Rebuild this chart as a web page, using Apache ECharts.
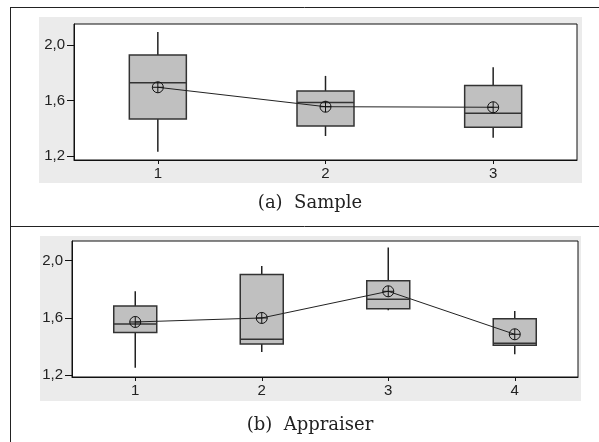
<!DOCTYPE html>
<html>
<head>
<meta charset="utf-8">
<script src="https://cdn.jsdelivr.net/npm/echarts@6/dist/echarts.min.js"></script>
<style>
html,body{margin:0;padding:0;background:#fff;}
#chart{width:599px;height:442px;}
</style>
</head>
<body>
<div id="chart"></div>
<script>
// ---- data ----
const sampleCategories = ['1', '2', '3'];
// [min, Q1, median, Q3, max]
const sampleBoxes = [
  [1.231, 1.467, 1.728, 1.928, 2.094],
  [1.344, 1.416, 1.585, 1.668, 1.777],
  [1.332, 1.407, 1.508, 1.707, 1.839]
];
const sampleMeans = [1.695, 1.555, 1.551];

const appraiserCategories = ['1', '2', '3', '4'];
const appraiserBoxes = [
  [1.253, 1.498, 1.558, 1.684, 1.786],
  [1.362, 1.418, 1.451, 1.904, 1.962],
  [1.653, 1.665, 1.730, 1.860, 2.091],
  [1.346, 1.409, 1.423, 1.595, 1.648]
];
const appraiserMeans = [1.572, 1.600, 1.786, 1.486];

const yTickValues = [1.2, 1.6, 2.0];
const yTickLabels = ['1,2', '1,6', '2,0'];
const captions = ['(a)  Sample', '(b)  Appraiser'];

// ---- chart ----
const chart = echarts.init(document.getElementById('chart'), null, {renderer: 'canvas'});
const meanSymbol = 'path://M10,5A5,5,0,1,1,0,5A5,5,0,1,1,10,5ZM0,5L10,5M5,0L5,10';
const labelFont = {fontFamily: 'Liberation Sans, Arial, sans-serif', fontSize: 15, color: '#222'};

function renderBox(params, api) {
  const idx = api.value(0);
  const vals = [api.value(1), api.value(2), api.value(3), api.value(4), api.value(5)];
  const pts = vals.map(v => api.coord([idx, v]));
  const cx = pts[0][0];
  const band = api.size([1, 0])[0];
  const hw = band * 0.34 / 2;
  const yMin = pts[0][1], yQ1 = pts[1][1], yMed = pts[2][1], yQ3 = pts[3][1], yMax = pts[4][1];
  const stroke = {stroke: '#222', lineWidth: 1.5};
  return {
    type: 'group',
    children: [
      {type: 'line', shape: {x1: cx, y1: yMax, x2: cx, y2: yQ3}, style: stroke},
      {type: 'line', shape: {x1: cx, y1: yQ1, x2: cx, y2: yMin}, style: stroke},
      {type: 'rect', shape: {x: cx - hw, y: yQ3, width: hw * 2, height: yQ1 - yQ3},
        style: {fill: '#c0c0c0', stroke: '#333', lineWidth: 1.5}},
      {type: 'line', shape: {x1: cx - hw, y1: yMed, x2: cx + hw, y2: yMed}, style: {stroke: '#333', lineWidth: 1.5}}
    ]
  };
}

function yAxisDef(gridIndex, min, max) {
  return {
    type: 'value', gridIndex: gridIndex, min: min, max: max,
    splitLine: {show: false},
    axisLine: {show: true, lineStyle: {color: '#111', width: 1}},
    axisTick: {show: true, length: 7, customValues: yTickValues, lineStyle: {color: '#111'}},
    axisLabel: Object.assign({
      margin: 9, customValues: yTickValues,
      formatter: v => yTickLabels[yTickValues.findIndex(t => Math.abs(t - v) < 1e-6)] || ''
    }, labelFont)
  };
}

function xAxisDef(gridIndex, cats) {
  return {
    type: 'category', gridIndex: gridIndex, data: cats, boundaryGap: true,
    axisLine: {show: true, lineStyle: {color: '#111', width: 1}},
    axisTick: {show: true, alignWithLabel: true, length: 4, lineStyle: {color: '#111'}},
    axisLabel: Object.assign({margin: 6}, labelFont),
    splitLine: {show: false}
  };
}

const option = {
  animation: false,
  backgroundColor: '#fff',
  graphic: [
    {type: 'rect', shape: {x: 39, y: 17, width: 543, height: 166}, style: {fill: '#ebebeb'}, z: -10},
    {type: 'rect', shape: {x: 40, y: 236, width: 541, height: 165}, style: {fill: '#ebebeb'}, z: -10},
    {type: 'line', shape: {x1: 10.5, y1: 7.5, x2: 10.5, y2: 442}, style: {stroke: '#222', lineWidth: 1}},
    {type: 'line', shape: {x1: 10, y1: 7.5, x2: 599, y2: 7.5}, style: {stroke: '#222', lineWidth: 1}},
    {type: 'line', shape: {x1: 10, y1: 226.5, x2: 599, y2: 226.5}, style: {stroke: '#222', lineWidth: 1}},
    {type: 'text', x: 310, y: 194,
      style: {text: captions[0], font: '18px "DejaVu Serif", serif', fill: '#222', align: 'center', verticalAlign: 'top'}},
    {type: 'text', x: 310, y: 416,
      style: {text: captions[1], font: '18px "DejaVu Serif", serif', fill: '#222', align: 'center', verticalAlign: 'top'}}
  ],
  grid: [
    {left: 74, top: 24, width: 503, height: 136, show: true, backgroundColor: '#fff', borderColor: '#111', borderWidth: 1},
    {left: 72, top: 241, width: 506, height: 136, show: true, backgroundColor: '#fff', borderColor: '#111', borderWidth: 1}
  ],
  xAxis: [xAxisDef(0, sampleCategories), xAxisDef(1, appraiserCategories)],
  yAxis: [yAxisDef(0, 1.171, 2.151), yAxisDef(1, 1.188, 2.137)],
  series: [
    {
      type: 'custom', xAxisIndex: 0, yAxisIndex: 0,
      renderItem: renderBox,
      encode: {x: 0, y: [1, 2, 3, 4, 5]},
      data: sampleBoxes.map((b, i) => [i].concat(b)),
      z: 2
    },
    {
      type: 'line', xAxisIndex: 0, yAxisIndex: 0,
      data: sampleMeans,
      symbol: meanSymbol, symbolSize: 11,
      itemStyle: {color: 'rgba(0,0,0,0)', borderColor: '#111', borderWidth: 1},
      lineStyle: {color: '#222', width: 1},
      z: 5
    },
    {
      type: 'custom', xAxisIndex: 1, yAxisIndex: 1,
      renderItem: renderBox,
      encode: {x: 0, y: [1, 2, 3, 4, 5]},
      data: appraiserBoxes.map((b, i) => [i].concat(b)),
      z: 2
    },
    {
      type: 'line', xAxisIndex: 1, yAxisIndex: 1,
      data: appraiserMeans,
      symbol: meanSymbol, symbolSize: 11,
      itemStyle: {color: 'rgba(0,0,0,0)', borderColor: '#111', borderWidth: 1},
      lineStyle: {color: '#222', width: 1},
      z: 5
    }
  ]
};
chart.setOption(option);
</script>
</body>
</html>
